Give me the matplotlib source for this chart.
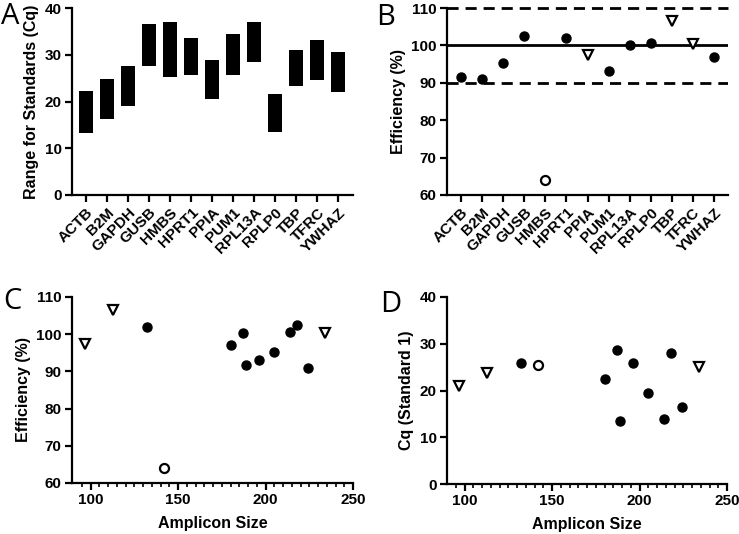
import numpy as np
import matplotlib.pyplot as plt

plt.rcParams['font.family'] = ['Liberation Sans', 'DejaVu Sans']
plt.rcParams['font.weight'] = 'bold'

genes = ['ACTB', 'B2M', 'GAPDH', 'GUSB', 'HMBS', 'HPRT1', 'PPIA', 'PUM1',
         'RPL13A', 'RPLP0', 'TBP', 'TFRC', 'YWHAZ']
cq_low = [13.2, 16.2, 19.1, 27.7, 25.2, 25.6, 20.5, 25.7, 28.4, 13.5, 23.3, 24.7, 22.1]
cq_high = [22.2, 24.9, 27.6, 36.5, 37.1, 33.6, 28.9, 34.4, 37.1, 21.7, 31.1, 33.1, 30.5]
efficiency = [91.6, 91.0, 95.3, 102.6, 64.0, 101.9, 97.3, 93.1, 100.2, 100.7, 106.4, 100.3, 97.0]
amplicon = [189, 224, 205, 218, 142, 132, 97, 196, 187, 214, 113, 234, 180]
cq_std1 = [13.4, 16.5, 19.5, 28.0, 25.5, 25.9, 20.9, 25.9, 28.6, 13.8, 23.8, 25.1, 22.4]
# marker group: 'f' filled circle, 'o' open circle, 'v' open triangle
group = ['f', 'f', 'f', 'f', 'o', 'f', 'v', 'f', 'f', 'f', 'v', 'v', 'f']

fig = plt.figure(figsize=(7.39, 5.34), dpi=100)
W, H = 739, 534
TICK_FS = 11
LAB_FS = 11.5


def add_ax(l, r, t, b):
    return fig.add_axes([l / W, 1 - b / H, (r - l) / W, (b - t) / H])


def style(ax):
    for s in ['top', 'right']:
        ax.spines[s].set_visible(False)
    for s in ['left', 'bottom']:
        ax.spines[s].set_linewidth(1.6)
    ax.tick_params(width=1.6, length=5, labelsize=TICK_FS, pad=2.5)
    ax.tick_params(which='minor', width=1.2, length=3)
    for lab in ax.get_xticklabels() + ax.get_yticklabels():
        lab.set_fontweight('bold')


def scatter_groups(ax, xs, ys):
    for x, y, g in zip(xs, ys, group):
        if g == 'f':
            ax.plot(x, y, 'o', color='black', ms=6.5, clip_on=False)
        elif g == 'o':
            ax.plot(x, y, 'o', mfc='white', mec='black', mew=1.6, ms=6.5, clip_on=False)
        else:
            ax.plot(x, y, 'v', mfc='white', mec='black', mew=1.6, ms=7.5, clip_on=False)


xpos = np.arange(len(genes))

# A
axA = add_ax(72, 353, 8, 195)
axA.bar(xpos, np.array(cq_high) - np.array(cq_low), bottom=cq_low, width=0.65, color='black')
axA.set_xlim(-0.67, 12.7)
axA.set_ylim(0, 40)
axA.set_yticks([0, 10, 20, 30, 40])
axA.set_xticks(xpos)
axA.set_xticklabels(genes, rotation=45, ha='right', rotation_mode='anchor')
axA.set_ylabel('Range for Standards (Cq)', fontsize=LAB_FS, fontweight='bold', labelpad=4)
style(axA)

# B
axB = add_ax(447, 728, 8, 195)
axB.axhline(100, color='black', lw=2)
axB.axhline(90, color='black', lw=2, ls=(0, (4, 2.5)))
axB.axhline(110, color='black', lw=2, ls=(0, (4, 2.5)), clip_on=False)
scatter_groups(axB, xpos, efficiency)
axB.set_xlim(-0.66, 12.66)
axB.set_ylim(60, 110)
axB.set_yticks([60, 70, 80, 90, 100, 110])
axB.set_xticks(xpos)
axB.set_xticklabels(genes, rotation=45, ha='right', rotation_mode='anchor')
axB.set_ylabel('Efficiency (%)', fontsize=LAB_FS, fontweight='bold', labelpad=4)
style(axB)

# C
axC = add_ax(72, 353, 297, 483)
scatter_groups(axC, amplicon, efficiency)
axC.set_xlim(89.4, 250)
axC.set_ylim(60, 110)
axC.set_yticks([60, 70, 80, 90, 100, 110])
axC.set_xticks([100, 150, 200, 250])
axC.set_xticks(np.arange(95, 250, 5), minor=True)
axC.set_xlabel('Amplicon Size', fontsize=LAB_FS, fontweight='bold', labelpad=6)
axC.set_ylabel('Efficiency (%)', fontsize=LAB_FS, fontweight='bold', labelpad=4)
style(axC)

# D
axD = add_ax(447, 727, 297, 484)
scatter_groups(axD, amplicon, cq_std1)
axD.set_xlim(90, 250)
axD.set_ylim(0, 40)
axD.set_yticks([0, 10, 20, 30, 40])
axD.set_xticks([100, 150, 200, 250])
axD.set_xticks(np.arange(95, 250, 5), minor=True)
axD.set_xlabel('Amplicon Size', fontsize=LAB_FS, fontweight='bold', labelpad=6)
axD.set_ylabel('Cq (Standard 1)', fontsize=LAB_FS, fontweight='bold', labelpad=4)
style(axD)

for letter, x, y in [('A', 1, 2), ('B', 376, 3), ('C', 3, 287), ('D', 380, 290)]:
    fig.text(x / W, 1 - y / H, letter, fontsize=21, fontweight='normal',
             family='Open Sans', ha='left', va='top')

fig.savefig('out.png', dpi=100)
